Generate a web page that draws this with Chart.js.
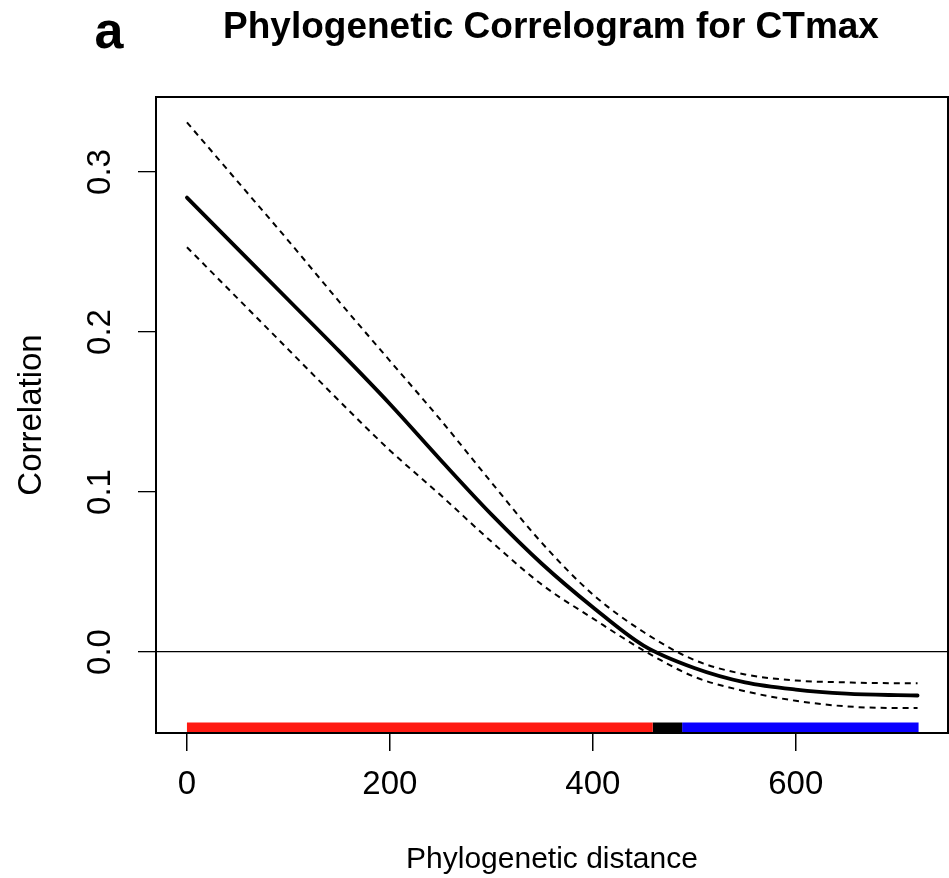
<!DOCTYPE html>
<html>
<head>
<meta charset="utf-8">
<script src="https://cdn.jsdelivr.net/npm/chart.js@4.4.1/dist/chart.umd.min.js"></script>
<style>
  html, body { margin: 0; padding: 0; background: #fff; }
  #wrap { width: 949px; height: 878px; }
</style>
</head>
<body>
<div id="wrap"><canvas id="correlogram" width="949" height="878"></canvas></div>
<script>
// phylogenetic distance at which the curves were read
const distance = [0, 50, 100, 150, 200, 250, 300, 350, 400, 450, 500, 550, 600, 650, 700, 720];
const correlation = [0.284, 0.252, 0.220, 0.188, 0.155, 0.120, 0.086, 0.055, 0.028, 0.004, -0.010, -0.019, -0.0235, -0.026, -0.027, -0.0272];
const upperCI = [0.331, 0.294, 0.257, 0.219, 0.182, 0.145, 0.106, 0.068, 0.036, 0.0125, -0.005, -0.014, -0.0178, -0.019, -0.0195, -0.0195];
const lowerCI = [0.253, 0.221, 0.189, 0.157, 0.126, 0.098, 0.069, 0.042, 0.021, 0.001, -0.0155, -0.0245, -0.0305, -0.034, -0.035, -0.035];

// significance bar along the bottom (positive / n.s. / negative)
const segStart = [0, 459, 488];
const segEnd = [459, 488, 721];
const segColor = ["#ff1a12", "#000000", "#0a00ff"];
const segLevel = -0.0475;

const xTicks = [0, 200, 400, 600];
const yTicks = [0, 0.1, 0.2, 0.3];

const panelLetter = "a";
const chartTitle = "Phylogenetic Correlogram for CTmax";

const sans = "'Liberation Sans', Arial, sans-serif";

const toPoints = (ys) => distance.map((d, i) => ({ x: d, y: ys[i] }));

const curveStyle = {
  pointRadius: 0,
  borderColor: "#000",
  cubicInterpolationMode: "monotone",
  fill: false,
};

const datasets = [
  { ...curveStyle, label: "upper", data: toPoints(upperCI), borderWidth: 2, borderDash: [6, 5] },
  { ...curveStyle, label: "lower", data: toPoints(lowerCI), borderWidth: 2, borderDash: [6, 5] },
  { ...curveStyle, label: "correlation", data: toPoints(correlation), borderWidth: 3.8, borderCapStyle: "round" },
];

segStart.forEach((s, i) => {
  datasets.push({
    label: "sig" + i,
    data: [{ x: s, y: segLevel }, { x: segEnd[i], y: segLevel }],
    borderColor: segColor[i],
    borderWidth: 11,
    borderCapStyle: "butt",
    pointRadius: 0,
  });
});

// box round the plot region plus the titles
const framePlugin = {
  id: "frame",
  afterDraw(chart) {
    const { ctx, chartArea: a } = chart;
    ctx.save();
    ctx.strokeStyle = "#000";
    ctx.lineWidth = 2;
    ctx.strokeRect(a.left, a.top, a.right - a.left, a.bottom - a.top);

    ctx.fillStyle = "#000";
    ctx.textBaseline = "alphabetic";
    ctx.textAlign = "center";
    ctx.font = "bold 52px " + sans;
    ctx.fillText(panelLetter, 109, 48);
    ctx.font = "bold 37px " + sans;
    ctx.fillText(chartTitle, 551, 38);
    ctx.restore();
  },
};

const ctx = document.getElementById("correlogram");

new Chart(ctx, {
  type: "line",
  data: { datasets },
  options: {
    responsive: false,
    animation: false,
    layout: { padding: { top: 97, right: 1, left: 0, bottom: 0 } },
    plugins: { legend: { display: false }, tooltip: { enabled: false } },
    scales: {
      x: {
        type: "linear",
        min: -30.5,
        max: 750,
        afterBuildTicks: (s) => { s.ticks = xTicks.map((v) => ({ value: v })); },
        afterFit: (s) => { s.height = 145; },
        border: { display: false },
        grid: { drawOnChartArea: false, tickLength: 18, tickColor: "#000", lineWidth: 1.5 },
        ticks: { color: "#000", padding: 14, font: { family: sans, size: 33 } },
        title: {
          display: true,
          text: "Phylogenetic distance",
          color: "#000",
          padding: { bottom: 0 },
          font: { family: sans, size: 30 },
        },
      },
      y: {
        type: "linear",
        min: -0.050625,
        max: 0.346875,
        afterBuildTicks: (s) => { s.ticks = yTicks.map((v) => ({ value: v })); },
        afterFit: (s) => { s.width = 156; },
        border: { display: false },
        grid: {
          color: (c) => (c.tick && c.tick.value === 0 ? "#000" : "rgba(0,0,0,0)"),
          tickColor: "#000",
          tickLength: 18,
          lineWidth: 1.3,
        },
        ticks: {
          color: "#000",
          minRotation: 90,
          maxRotation: 90,
          crossAlign: "center",
          padding: 14,
          font: { family: sans, size: 33 },
          callback: (v) => v.toFixed(1),
        },
        title: {
          display: true,
          text: "Correlation",
          color: "#000",
          padding: { top: 12 },
          font: { family: sans, size: 33 },
        },
      },
    },
  },
  plugins: [framePlugin],
});
</script>
</body>
</html>
